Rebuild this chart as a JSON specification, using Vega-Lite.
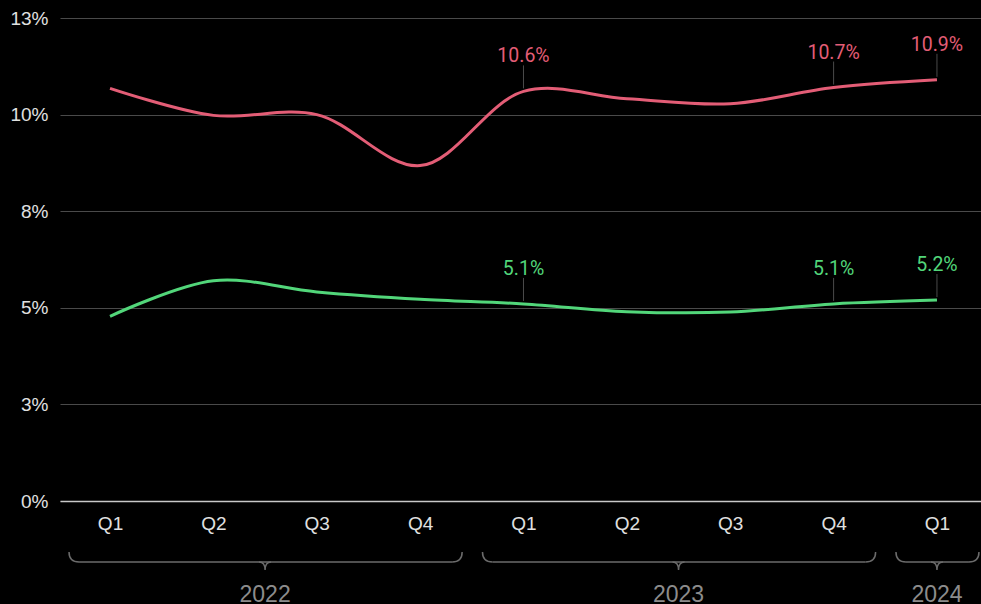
{
  "$schema": "https://vega.github.io/schema/vega-lite/v6.json",
  "width": 921,
  "height": 483,
  "autosize": {"type": "none"},
  "padding": {"left": 60, "top": 18, "right": 0, "bottom": 103},
  "background": "#000000",
  "config": {"view": {"stroke": null}, "font": "Liberation Sans"},
  "datasets": {
    "rates": [
      {"series": "A", "i": 0, "year": "2022", "quarter": "Q1", "v": 0.1068},
      {"series": "A", "i": 1, "year": "2022", "quarter": "Q2", "v": 0.0998},
      {"series": "A", "i": 2, "year": "2022", "quarter": "Q3", "v": 0.1},
      {"series": "A", "i": 3, "year": "2022", "quarter": "Q4", "v": 0.0868},
      {"series": "A", "i": 4, "year": "2023", "quarter": "Q1", "v": 0.106},
      {"series": "A", "i": 5, "year": "2023", "quarter": "Q2", "v": 0.1041},
      {"series": "A", "i": 6, "year": "2023", "quarter": "Q3", "v": 0.1028},
      {"series": "A", "i": 7, "year": "2023", "quarter": "Q4", "v": 0.107},
      {"series": "A", "i": 8, "year": "2024", "quarter": "Q1", "v": 0.109},
      {"series": "B", "i": 0, "year": "2022", "quarter": "Q1", "v": 0.0478},
      {"series": "B", "i": 1, "year": "2022", "quarter": "Q2", "v": 0.057},
      {"series": "B", "i": 2, "year": "2022", "quarter": "Q3", "v": 0.0541},
      {"series": "B", "i": 3, "year": "2022", "quarter": "Q4", "v": 0.0522},
      {"series": "B", "i": 4, "year": "2023", "quarter": "Q1", "v": 0.051},
      {"series": "B", "i": 5, "year": "2023", "quarter": "Q2", "v": 0.049},
      {"series": "B", "i": 6, "year": "2023", "quarter": "Q3", "v": 0.0489},
      {"series": "B", "i": 7, "year": "2023", "quarter": "Q4", "v": 0.051},
      {"series": "B", "i": 8, "year": "2024", "quarter": "Q1", "v": 0.052}
    ],
    "years": [
      {"year": "2022", "first": 0, "last": 3, "mid": 1.5},
      {"year": "2023", "first": 4, "last": 7, "mid": 5.5},
      {"year": "2024", "first": 8, "last": 8, "mid": 8}
    ]
  },
  "layer": [
    {
      "data": {"name": "rates"},
      "mark": {"type": "line", "interpolate": "catmull-rom", "strokeWidth": 3},
      "encoding": {
        "x": {
          "field": "i",
          "type": "quantitative",
          "scale": {"domain": [-0.484, 8.426], "nice": false, "zero": false},
          "axis": {
            "values": [0, 1, 2, 3, 4, 5, 6, 7, 8],
            "labelExpr": "'Q' + (datum.value % 4 + 1)",
            "grid": false,
            "ticks": false,
            "domainColor": "#c8c8c8",
            "domainWidth": 1.5,
            "labelColor": "#e0e0e0",
            "labelFontSize": 19,
            "labelPadding": 13,
            "title": null
          }
        },
        "y": {
          "field": "v",
          "type": "quantitative",
          "scale": {"domain": [0, 0.125], "nice": false, "zero": true},
          "axis": {
            "values": [0, 0.025, 0.05, 0.075, 0.1, 0.125],
            "labelExpr": "round(datum.value * 100 + 0.001) + '%'",
            "domain": false,
            "ticks": false,
            "gridColor": "#4a4a4a",
            "gridWidth": 1,
            "labelColor": "#e0e0e0",
            "labelFontSize": 19,
            "labelPadding": 12,
            "title": null
          }
        },
        "color": {
          "field": "series",
          "type": "nominal",
          "scale": {"domain": ["A", "B"], "range": ["#e35d76", "#52d67a"]},
          "legend": null
        }
      }
    },
    {
      "data": {"name": "rates"},
      "transform": [{"filter": {"field": "i", "oneOf": [4, 7, 8]}}],
      "mark": {"type": "rule", "color": "#4a4a4a", "strokeWidth": 1, "yOffset": -3, "y2Offset": -26},
      "encoding": {
        "x": {"field": "i", "type": "quantitative"},
        "y": {"field": "v", "type": "quantitative"},
        "y2": {"field": "v"}
      }
    },
    {
      "data": {"name": "rates"},
      "transform": [{"filter": {"field": "i", "oneOf": [4, 7, 8]}}],
      "mark": {"type": "text", "font": "Roboto", "fontSize": 19.5, "baseline": "middle", "align": "center", "dy": -35},
      "encoding": {
        "x": {"field": "i", "type": "quantitative"},
        "y": {"field": "v", "type": "quantitative"},
        "text": {"field": "v", "type": "quantitative", "format": ".1%"},
        "color": {
          "field": "series",
          "type": "nominal",
          "scale": {"domain": ["A", "B"], "range": ["#d9637a", "#5ccf7e"]},
          "legend": null
        }
      }
    },
    {
      "data": {"name": "years"},
      "mark": {"type": "rule", "color": "#6b6b6b", "strokeWidth": 1.5, "xOffset": -31, "x2Offset": 32},
      "encoding": {
        "x": {"field": "first", "type": "quantitative"},
        "x2": {"field": "last"},
        "y": {"datum": -0.01579, "type": "quantitative"}
      }
    },
    {
      "data": {"name": "years"},
      "mark": {"type": "point", "shape": "M -1 -1 Q -1 1 1 1", "size": 100, "filled": false, "color": "#6b6b6b", "strokeWidth": 1.5, "opacity": 1, "xOffset": -36},
      "encoding": {
        "x": {"field": "first", "type": "quantitative"},
        "y": {"datum": -0.01449, "type": "quantitative"}
      }
    },
    {
      "data": {"name": "years"},
      "mark": {"type": "point", "shape": "M -1 1 Q 1 1 1 -1", "size": 100, "filled": false, "color": "#6b6b6b", "strokeWidth": 1.5, "opacity": 1, "xOffset": 37},
      "encoding": {
        "x": {"field": "last", "type": "quantitative"},
        "y": {"datum": -0.01449, "type": "quantitative"}
      }
    },
    {
      "data": {"name": "years"},
      "mark": {"type": "point", "shape": "M -1.5 -1 Q 0 -1 0 1 Q 0 -1 1.5 -1", "size": 64, "filled": false, "color": "#6b6b6b", "strokeWidth": 1.5, "opacity": 1},
      "encoding": {
        "x": {"field": "mid", "type": "quantitative"},
        "y": {"datum": -0.01682, "type": "quantitative"}
      }
    },
    {
      "data": {"name": "years"},
      "mark": {"type": "text", "fontSize": 23, "color": "#8c8c8c", "align": "center", "baseline": "alphabetic"},
      "encoding": {
        "x": {"field": "mid", "type": "quantitative"},
        "y": {"datum": -0.0262, "type": "quantitative"},
        "text": {"field": "year", "type": "nominal"}
      }
    }
  ]
}
